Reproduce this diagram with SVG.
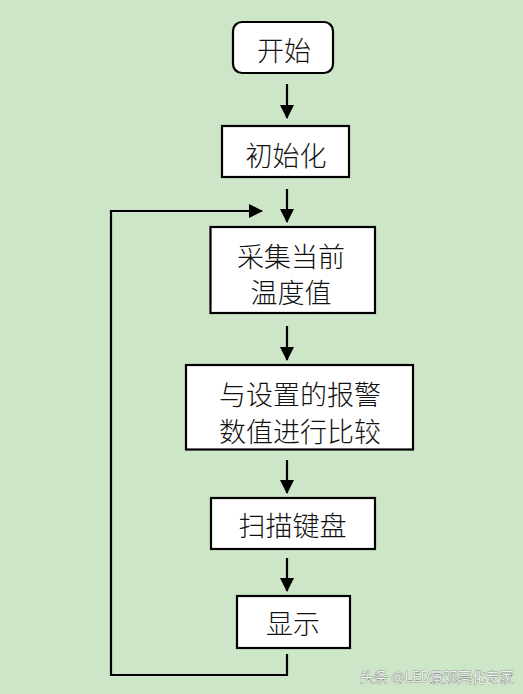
<svg xmlns="http://www.w3.org/2000/svg" width="523" height="694" viewBox="0 0 523 694">
<style>
.box{fill:#fff;stroke:#000;stroke-width:2.2}
.t{font-family:"Noto Sans CJK SC","Noto Sans CJK JP",sans-serif;font-size:27px;font-weight:300;fill:#111;text-anchor:middle;dominant-baseline:central}
.c{fill:none;stroke:#000;stroke-width:2.2}
.wm{font-family:"Noto Sans CJK SC",sans-serif;font-size:14px;fill:#f0f0f0;stroke:#666;stroke-width:0.6;paint-order:stroke}
</style>
<defs>
<marker id="ah" markerWidth="14" markerHeight="14" refX="13" refY="7" orient="auto" markerUnits="userSpaceOnUse">
<path d="M0,0 L14,7 L0,14 Z" fill="#000"/>
</marker>
</defs>
<rect width="523" height="694" fill="#cde6c8"/>
<g id="start"><rect class="box" x="233" y="22" width="100" height="51" rx="9"/><text class="t" x="284" y="49">开始</text></g>
<g id="init"><rect class="box" x="222" y="126" width="127" height="51"/><text class="t" x="286" y="154">初始化</text></g>
<g id="collect"><rect class="box" x="210.5" y="227" width="164.5" height="86"/><text class="t" x="291" y="255">采集当前</text><text class="t" x="291" y="291">温度值</text></g>
<g id="compare"><rect class="box" x="186" y="365" width="227" height="84.5"/><text class="t" x="300" y="393">与设置的报警</text><text class="t" x="300" y="430">数值进行比较</text></g>
<g id="scan"><rect class="box" x="211" y="498" width="164" height="51"/><text class="t" x="292.5" y="524">扫描键盘</text></g>
<g id="display"><rect class="box" x="237" y="596" width="113" height="52"/><text class="t" x="293" y="622">显示</text></g>
<g id="connectors">
<line class="c" x1="287" y1="84" x2="287" y2="118" marker-end="url(#ah)"/>
<line class="c" x1="287" y1="189" x2="287" y2="222" marker-end="url(#ah)"/>
<line class="c" x1="287" y1="326" x2="287" y2="360" marker-end="url(#ah)"/>
<line class="c" x1="287" y1="460" x2="287" y2="493" marker-end="url(#ah)"/>
<line class="c" x1="287" y1="558" x2="287" y2="591" marker-end="url(#ah)"/>
<polyline class="c" points="287,654 287,675 111,675 111,211 262,211" marker-end="url(#ah)"/>
</g>
<text class="wm" x="360" y="682">头条 @LED景观亮化专家</text>
</svg>
